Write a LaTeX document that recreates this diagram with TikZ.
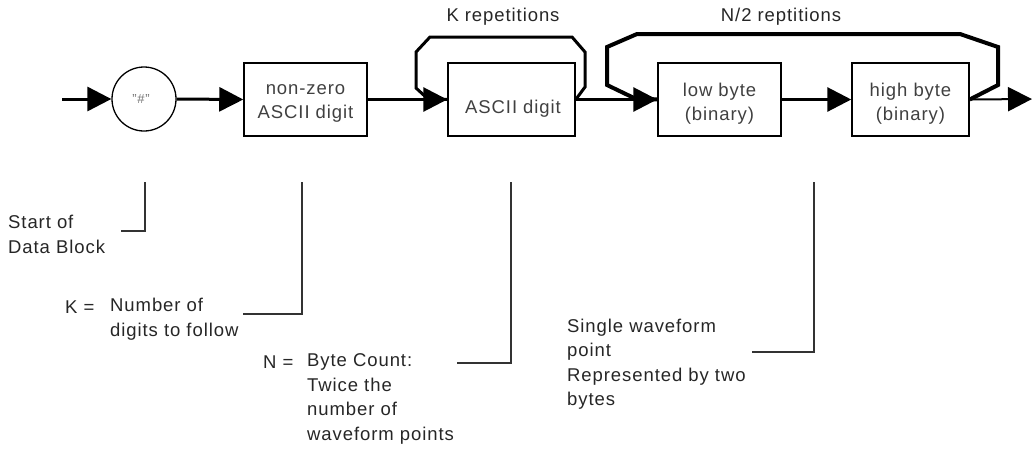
\documentclass[tikz,border=0pt]{standalone}
\usepackage{fontspec}
\setmainfont{Liberation Sans}[LetterSpace=5]
\usetikzlibrary{arrows.meta,calc}
\tikzset{
  flow/.style={line width=3pt,-{Triangle[length=24pt,width=24pt]}},
  thinflow/.style={line width=2pt,-{Triangle[length=24pt,width=24pt]}},
  boxshape/.style={draw,line width=1.5pt,minimum height=73pt,inner sep=0pt},
  boxtext/.style={align=center,text=black!75,inner sep=0pt},
  loopline/.style={line width=3pt,line join=miter},
  bigloop/.style={line width=4pt,line join=miter},
  callout/.style={line width=1.5pt,draw=black!80},
  lbl/.style={align=left,inner sep=0pt,anchor=west,text=black!85},
  toplbl/.style={inner sep=0pt,text=black!85},
}
\begin{document}
\begin{tikzpicture}[x=1pt,y=-1pt,font=\fontsize{18.5}{24.5}\selectfont]
\useasboundingbox (0,0) rectangle (1032,451);
% main chain
\coordinate (start) at (62,99);
\node[draw,circle,line width=1.3pt,minimum size=64pt,inner sep=0pt] (hash) at (144,99) {};
\node[inner sep=0pt,text=black!55,font=\fontsize{13}{13}\selectfont] (hashtxt) at (141,99) {"\#"};
\node[boxshape,minimum width=123pt] (box1) at (305.5,99.5) {};
\node[boxtext] (box1txt) at (305.5,103.5) {non-zero\\ASCII digit};
\node[boxshape,minimum width=127pt] (ascii) at (511.5,99.5) {};
\node[boxtext] (asciitxt) at (513,109) {ASCII digit};
\node[boxshape,minimum width=123pt] (low) at (719.5,99.5) {};
\node[boxtext] (lowtxt) at (719.5,103.5) {low byte\\(binary)};
\node[boxshape,minimum width=117pt] (high) at (910.5,99.5) {};
\node[boxtext] (hightxt) at (910.5,103.5) {high byte\\(binary)};
\coordinate (end) at (1032,99);

\draw[flow] (start) -- (hash.west);
\draw[flow] (hash.east) -- (box1.west);
\draw[flow] (box1.east) -- (ascii.west);
\draw[flow] (ascii.east) -- (low.west);
\draw[flow] (low.east) -- (high.west);
\draw[thinflow] (high.east) -- (end);

% loops
\draw[loopline] (ascii.east) -- (585,87) -- (585,52) -- (572,37) -- (430,37) -- (416,52) -- (416,88) -- (428,99) -- (ascii.west);
\draw[bigloop] (high.east) -- (998,85) -- (998,47) -- (960,34) -- (637,34) -- (607,47) -- (607,85) -- (634,98) -- (low.west);

\node[toplbl] (krep) at (503,17) {K repetitions};
\node[toplbl] (nrep) at (781,17) {N/2 reptitions};

% callouts
\coordinate (c1a) at (145,182); \coordinate (c1b) at (121,231);
\coordinate (c2a) at (302,182); \coordinate (c2b) at (243,314);
\coordinate (c3a) at (511,182); \coordinate (c3b) at (457,363);
\coordinate (c4a) at (814,182); \coordinate (c4b) at (752,352);
\draw[callout] (c1a) |- (c1b);
\draw[callout] (c2a) |- (c2b);
\draw[callout] (c3a) |- (c3b);
\draw[callout] (c4a) |- (c4b);

\node[lbl] (startlbl) at (8,234.5) {Start of\\Data Block};
\node[lbl] (keq) at (65,307) {K =};
\node[lbl] (kdesc) at (110,319) {Number of\\digits to follow};
\node[lbl] (neq) at (263,362) {N =};
\node[lbl] (ndesc) at (307,399) {Byte Count:\\Twice the\\number of\\waveform points};
\node[lbl] (wdesc) at (567,364) {Single waveform\\point\\Represented by two\\bytes};
\end{tikzpicture}
\end{document}
